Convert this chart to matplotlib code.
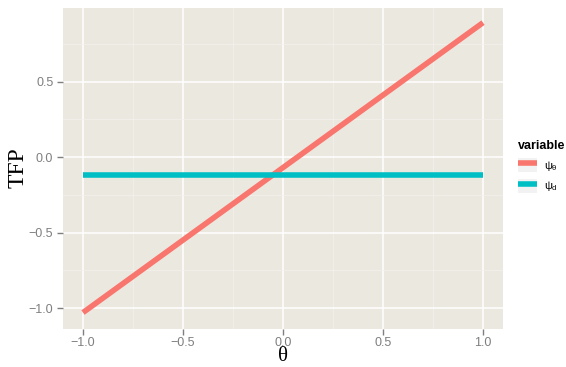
import matplotlib
matplotlib.use("Agg")
import matplotlib.pyplot as plt
from matplotlib.patches import Rectangle
from matplotlib.lines import Line2D
from matplotlib.legend_handler import HandlerTuple

theta = [-1.0, -0.5, 0.0, 0.5, 1.0]
psi_theta = [-1.03, -0.55, -0.07, 0.41, 0.89]
psi_d = [-0.12, -0.12, -0.12, -0.12, -0.12]
series_labels = [r"$\psi_\theta$", r"$\psi_d$"]
colors = ["#F8766D", "#00BFC4"]
xticks = [-1.0, -0.5, 0.0, 0.5, 1.0]
yticks = [-1.0, -0.5, 0.0, 0.5]

plt.rcParams["font.family"] = ["Liberation Sans", "DejaVu Sans"]
plt.rcParams["mathtext.fontset"] = "custom"
plt.rcParams["mathtext.rm"] = "Liberation Sans"
plt.rcParams["mathtext.it"] = "Liberation Sans"

W, H = 566, 367
fig = plt.figure(figsize=(W / 100, H / 100), dpi=100)
ax = fig.add_axes([63 / W, 1 - 329 / H, (503 - 63) / W, (329 - 8) / H])
ax.set_facecolor("#EBE8E0")
for s in ax.spines.values():
    s.set_visible(False)

ax.set_xlim(-1.1, 1.1)
ax.set_ylim(-1.139, 0.987)
ax.set_xticks(xticks)
ax.set_yticks(yticks)
ax.set_xticklabels(["\u22121.0", "\u22120.5", "0.0", "0.5", "1.0"])
ax.set_yticklabels(["\u22121.0", "\u22120.5", "0.0", "0.5"])
ax.set_xticks([-0.75, -0.25, 0.25, 0.75], minor=True)
ax.set_yticks([-0.75, -0.25, 0.25, 0.75], minor=True)
ax.grid(True, which="major", color="white", linewidth=1.1)
ax.grid(True, which="minor", color="#F4F2EE", linewidth=0.5)
ax.tick_params(which="major", colors="#7F7F7F", labelcolor="#7F7F7F", labelsize=9, length=4, width=1, pad=3)
ax.tick_params(axis="x", pad=2)
ax.tick_params(which="minor", length=0)
ax.set_axisbelow(True)

l1, = ax.plot(theta, psi_theta, color=colors[0], linewidth=4, solid_capstyle="butt")
l2, = ax.plot(theta, psi_d, color=colors[1], linewidth=4, solid_capstyle="butt")

fig.text(283 / W, 1 - 366 / H, "\u03b8", fontsize=15, family="Liberation Serif", ha="center", va="bottom")
fig.text(18 / W, 1 - 168 / H, "TFP", fontsize=17, family="Liberation Serif", ha="center", va="center", rotation=90)

handles = []
for c in colors:
    bg = Rectangle((0, 0), 1, 1, facecolor="#F2F2F2", edgecolor="none")
    ln = Line2D([], [], color=c, linewidth=4, solid_capstyle="butt")
    handles.append((bg, ln))

leg = fig.legend(handles, series_labels, title="variable", loc="upper left",
                 bbox_to_anchor=(518 / W, 1 - 140 / H), frameon=False, fontsize=8,
                 handlelength=1.7, handleheight=1.55, labelspacing=0.55, handletextpad=0.6,
                 borderaxespad=0, borderpad=0,
                 handler_map={tuple: HandlerTuple(ndivide=1, pad=0)})
leg.get_title().set_fontweight("bold")
leg.get_title().set_fontsize(9)
leg._legend_box.align = "left"

fig.savefig("out.png", dpi=100)
